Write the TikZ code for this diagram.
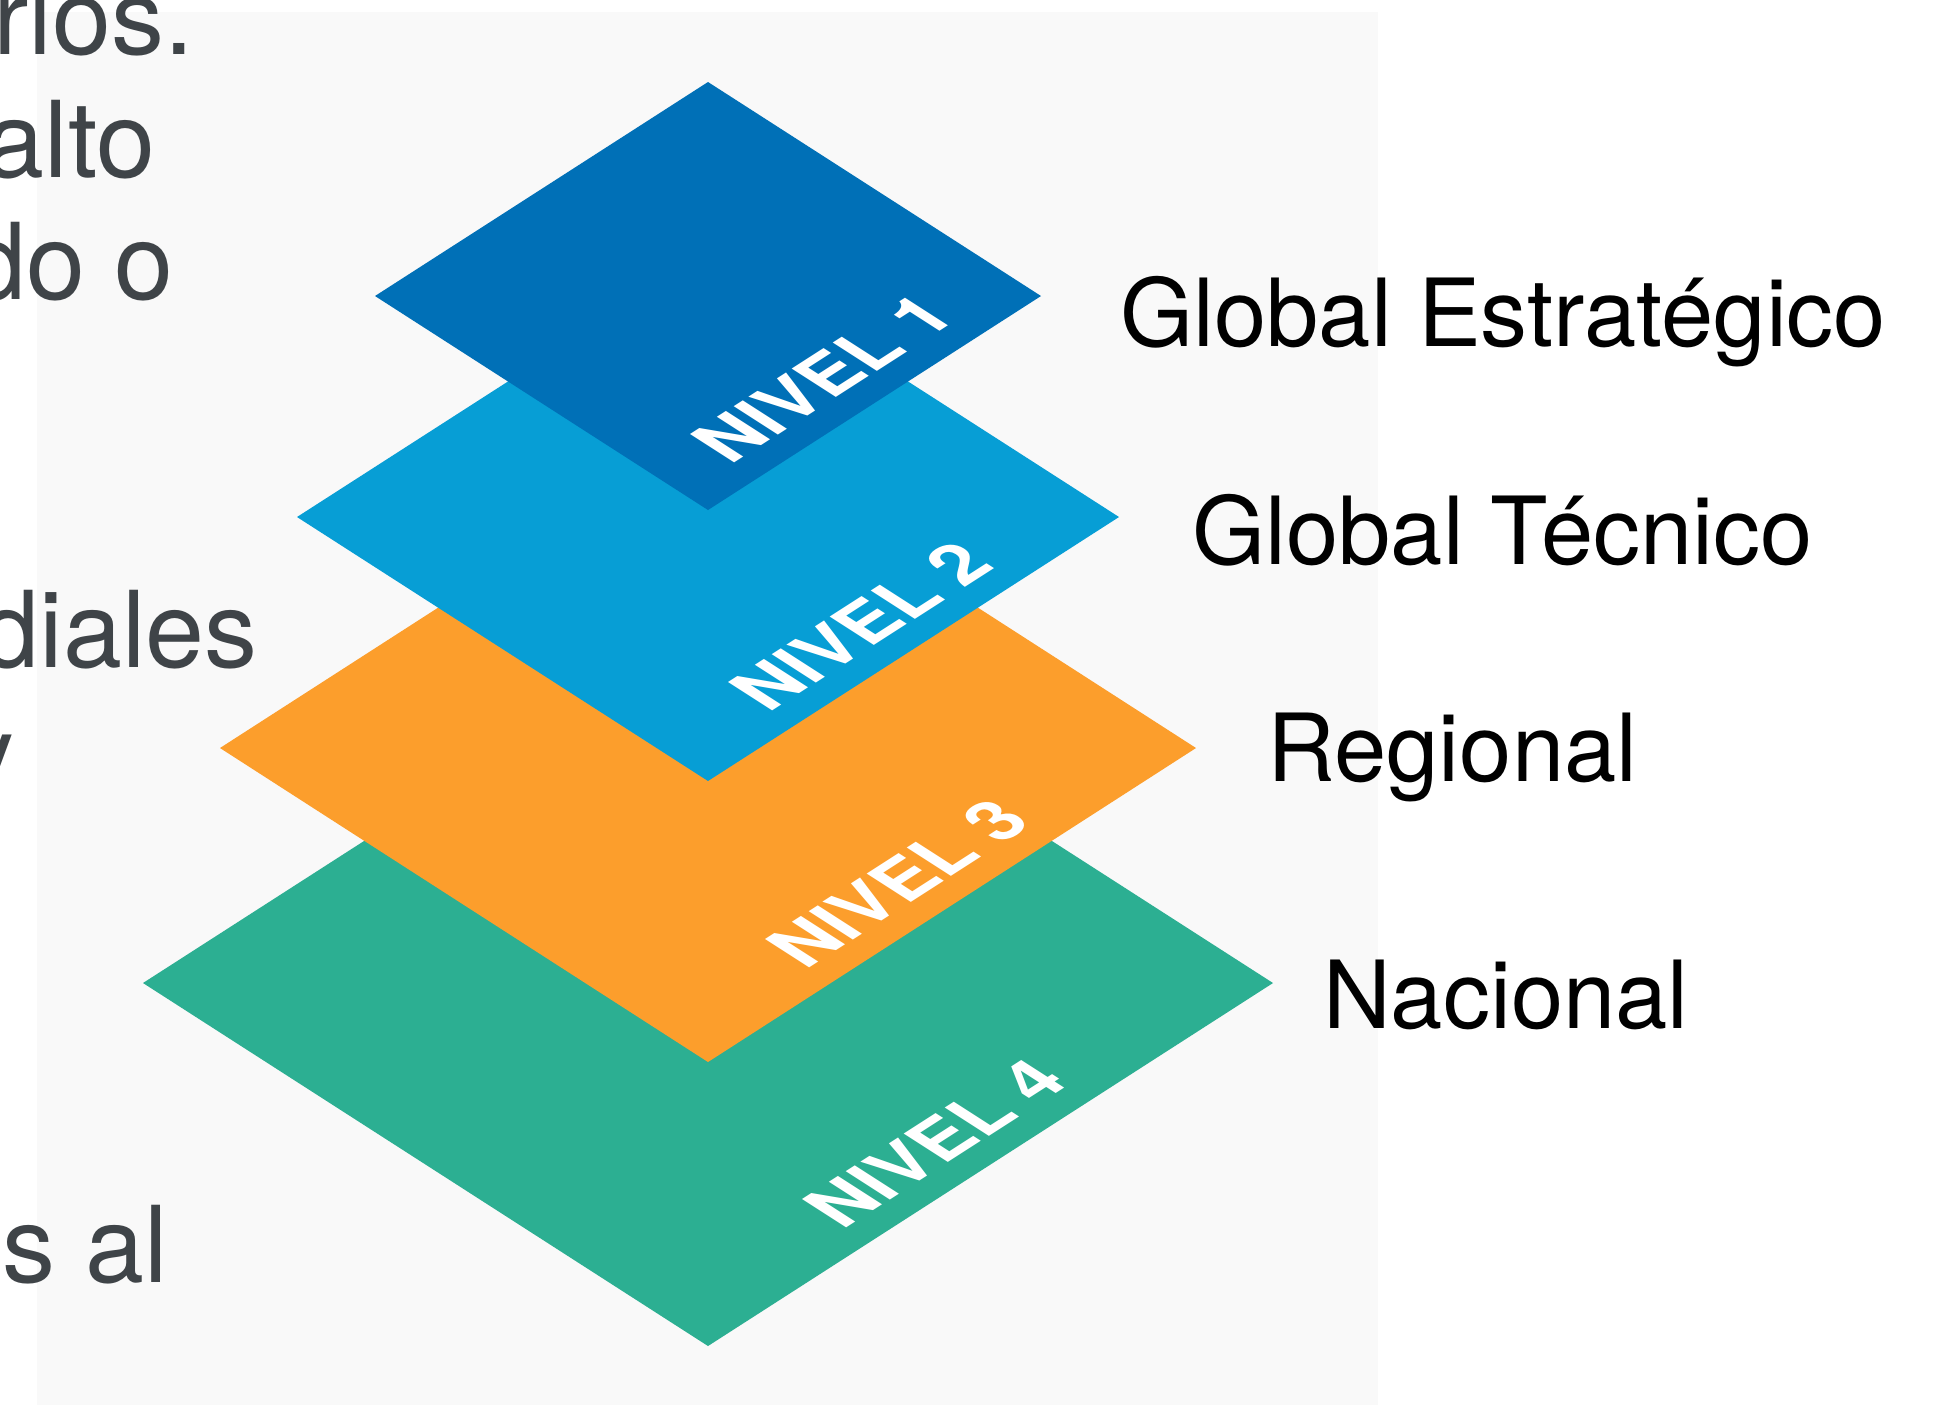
\documentclass[tikz,border=0pt]{standalone}
\usepackage{fontspec}
\setmainfont{TeX Gyre Heros}
\definecolor{bgray}{HTML}{F9F9F9}
\definecolor{lvlone}{HTML}{0070B7}
\definecolor{lvltwo}{HTML}{079ED5}
\definecolor{lvlthree}{HTML}{FC9E2C}
\definecolor{lvlfour}{HTML}{2CAF92}
\definecolor{sidetext}{HTML}{3F4448}
\begin{document}
\begin{tikzpicture}[x=0.5pt,y=-0.5pt,
  lvl/.style={text=white, inner sep=0pt, font=\fontsize{36}{36}\selectfont\bfseries,
    cm={0.8412,0.5407,-0.8412,0.5407,(0,0)}},
  lab/.style={text=black, inner sep=0pt, anchor=base west, font=\fontsize{47}{47}\selectfont},
  side/.style={text=sidetext, inner sep=0pt, anchor=base east, font=\fontsize{53}{53}\selectfont}]
\useasboundingbox (0,0) rectangle (1947,1405);
\clip (0,0) rectangle (1947,1405);
\fill[white] (0,0) rectangle (1947,1405);
\fill[bgray] (37,12) rectangle (1378,1405);

% left cut-off text
\node[side] (s1) at (194,54) {rios.};
\node[side] (s2) at (156,177) {alto};
\node[side] (s3) at (174,299) {do o};
\node[side] (s4) at (258,667) {diales};
\node[side] (s5) at (15,790) {y};
\node[side] (s6) at (168,1282) {es al};

% level 4
\coordinate (t4) at (708,620);
\coordinate (r4) at (1273,983);
\coordinate (b4) at (708,1346);
\coordinate (l4) at (143,983);
\fill[lvlfour] (t4) -- (r4) -- (b4) -- (l4) -- cycle;
\node[lvl] (n4) at (935,1143) {NIVEL 4};

% level 3
\coordinate (t3) at (708,434);
\coordinate (r3) at (1196,748);
\coordinate (b3) at (708,1062);
\coordinate (l3) at (220,748);
\fill[lvlthree] (t3) -- (r3) -- (b3) -- (l3) -- cycle;
\node[lvl] (n3) at (898,883) {NIVEL 3};

% level 2
\coordinate (t2) at (708,253);
\coordinate (r2) at (1119,517);
\coordinate (b2) at (708,781);
\coordinate (l2) at (297,517);
\fill[lvltwo] (t2) -- (r2) -- (b2) -- (l2) -- cycle;
\node[lvl] (n2) at (861,626) {NIVEL 2};

% level 1
\coordinate (t1) at (708,82);
\coordinate (r1) at (1041,296);
\coordinate (b1) at (708,510);
\coordinate (l1) at (375,296);
\fill[lvlone] (t1) -- (r1) -- (b1) -- (l1) -- cycle;
\node[lvl] (n1) at (823,378) {NIVEL 1};

% labels
\node[lab] (g1) at (1120,346) {Global Estratégico};
\node[lab] (g2) at (1192,564) {Global Técnico};
\node[lab] (g3) at (1267,781) {Regional};
\node[lab] (g4) at (1323,1028) {Nacional};
\end{tikzpicture}
\end{document}
